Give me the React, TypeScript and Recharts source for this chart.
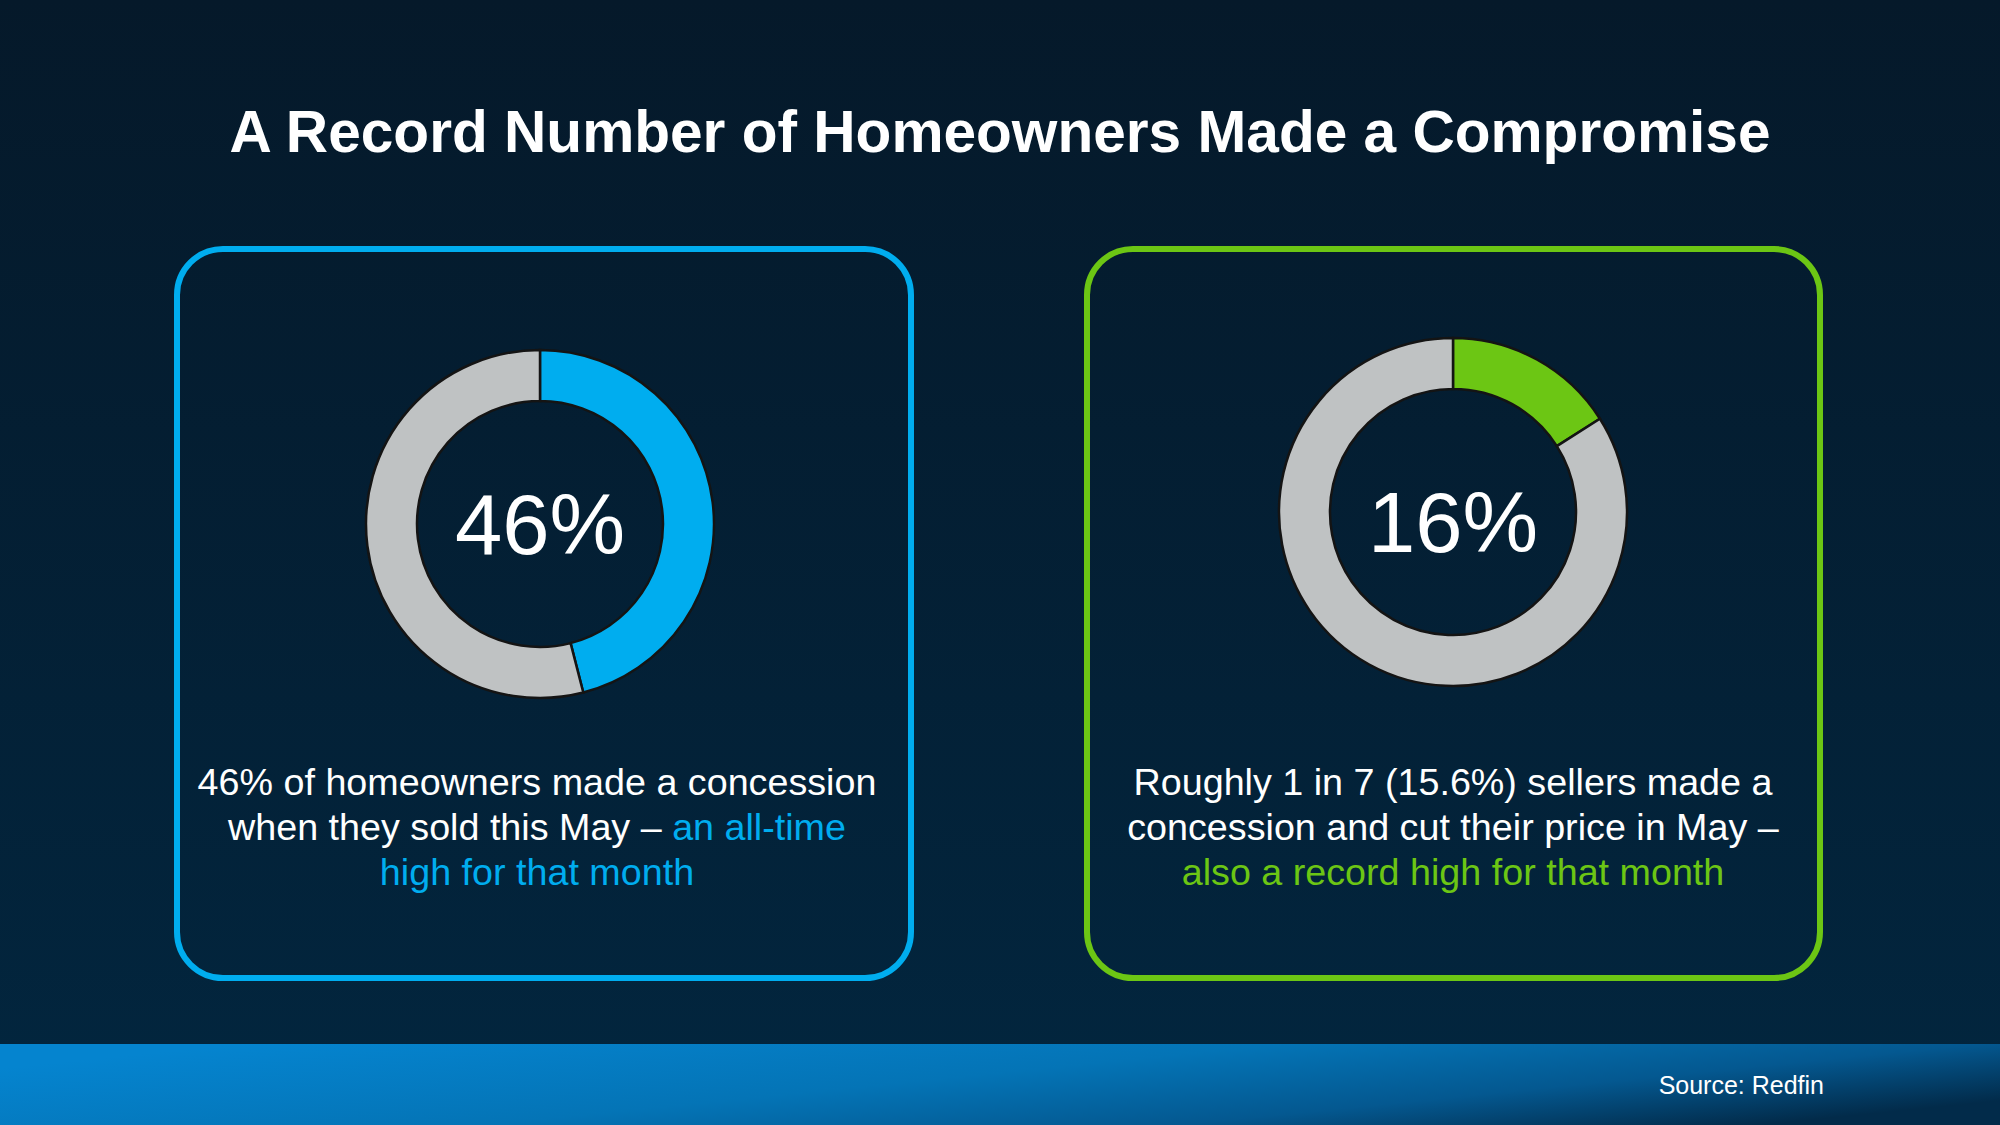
import React from 'react';
import { PieChart, Pie, Cell } from 'recharts';

const sliceNames = ['Made a concession', 'Did not'];
const concessionShare = [46, 54];
const priceCutShare = [16, 84];

const chartTitle = 'A Record Number of Homeowners Made a Compromise';
const leftLabel = '46%';
const rightLabel = '16%';
const leftLines = [
  [{ t: '46% of homeowners made a concession', hi: false }],
  [{ t: 'when they sold this May – ', hi: false }, { t: 'an all-time', hi: true }],
  [{ t: 'high for that month', hi: true }],
];
const rightLines = [
  [{ t: 'Roughly 1 in 7 (15.6%) sellers made a', hi: false }],
  [{ t: 'concession and cut their price in May –', hi: false }],
  [{ t: 'also a record high for that month', hi: true }],
];
const sourceText = 'Source: Redfin';

const BLUE = '#00adef';
const GREEN = '#6cc614';
const GREY = '#bfc2c3';
const FONT = '"Liberation Sans", Arial, sans-serif';

function Donut({ values, color, left, top }: { values: number[]; color: string; left: number; top: number }) {
  const data = values.map((v, i) => ({ name: sliceNames[i], value: v }));
  return (
    <div style={{ position: 'absolute', left, top }}>
      <PieChart width={400} height={400} margin={{ top: 0, right: 0, bottom: 0, left: 0 }}>
        <Pie
          data={data}
          dataKey="value"
          cx={200}
          cy={200}
          innerRadius={123}
          outerRadius={174}
          startAngle={90}
          endAngle={-270}
          isAnimationActive={false}
        >
          {data.map((d, i) => (
            <Cell key={d.name} fill={i === 0 ? color : GREY} stroke="#141414" strokeWidth={2.5} />
          ))}
        </Pie>
      </PieChart>
    </div>
  );
}

function Caption({ lines, x, color }: { lines: { t: string; hi: boolean }[][]; x: number; color: string }) {
  return (
    <text x={x} textAnchor="middle" fontFamily={FONT} fontSize={37.7} fill="#ffffff">
      {lines.map((line, i) => (
        <tspan key={i} x={x} y={795 + i * 45}>
          {line.map((s, j) => (
            <tspan key={j} fill={s.hi ? color : '#ffffff'}>{s.t}</tspan>
          ))}
        </tspan>
      ))}
    </text>
  );
}

export default function App() {
  return (
    <div style={{ position: 'absolute', left: 0, top: 0, width: 2000, height: 1125, overflow: 'hidden' }}>
      <svg width={2000} height={1125} style={{ position: 'absolute', left: 0, top: 0 }}>
        <defs>
          <linearGradient id="bg" x1="0" y1="0" x2="0" y2="1">
            <stop offset="0%" stopColor="#05192a" />
            <stop offset="100%" stopColor="#02263f" />
          </linearGradient>
          <linearGradient id="foot" x1="0" y1="0.3" x2="1" y2="0.7">
            <stop offset="0%" stopColor="#0584cf" />
            <stop offset="45%" stopColor="#0474b6" />
            <stop offset="75%" stopColor="#045890" />
            <stop offset="100%" stopColor="#022b4a" />
          </linearGradient>
        </defs>
        <rect x={0} y={0} width={2000} height={1125} fill="url(#bg)" />
        <rect x={0} y={1044} width={2000} height={81} fill="url(#foot)" />
        <text x={1000} y={152} textAnchor="middle" fontFamily={FONT} fontWeight="bold" fontSize={58.6} fill="#ffffff">
          {chartTitle}
        </text>
        <rect x={177} y={249} width={734} height={729} rx={46} fill="none" stroke={BLUE} strokeWidth={6} />
        <rect x={1087} y={249} width={733} height={729} rx={46} fill="none" stroke={GREEN} strokeWidth={6} />
        <text x={540} y={554} textAnchor="middle" fontFamily={FONT} fontSize={85} fill="#ffffff">{leftLabel}</text>
        <text x={1453} y={552} textAnchor="middle" fontFamily={FONT} fontSize={85} fill="#ffffff">{rightLabel}</text>
        <Caption lines={leftLines} x={537} color={BLUE} />
        <Caption lines={rightLines} x={1453} color={GREEN} />
        <text x={1824} y={1094} textAnchor="end" fontFamily={FONT} fontSize={25} fill="#ffffff">{sourceText}</text>
      </svg>
      <Donut values={concessionShare} color={BLUE} left={340} top={324} />
      <Donut values={priceCutShare} color={GREEN} left={1253} top={312} />
    </div>
  );
}
